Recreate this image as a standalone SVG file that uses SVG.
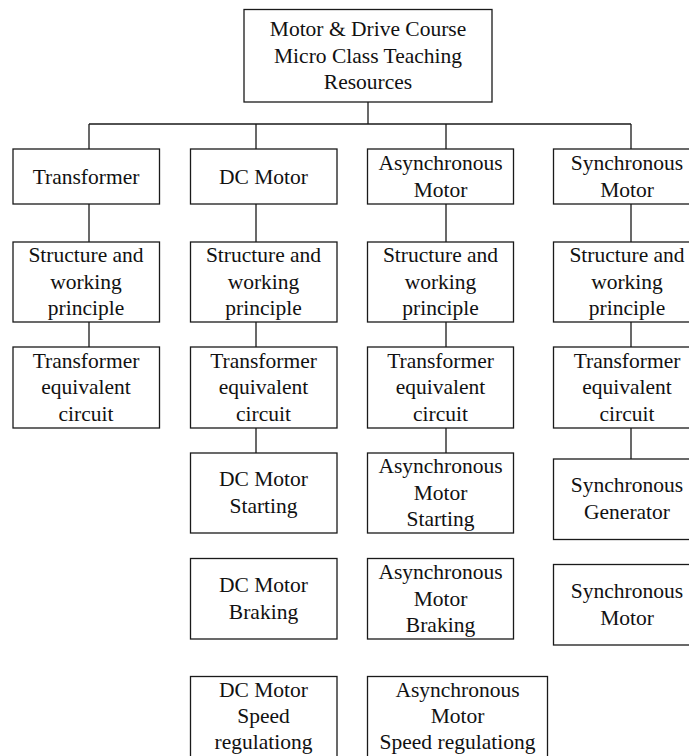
<svg xmlns="http://www.w3.org/2000/svg" width="689" height="756" viewBox="0 0 689 756">
<style>
rect.n{fill:#fff;stroke:#1a1a1a;stroke-width:1.3}
text{font-family:'Liberation Serif','Tinos','Times New Roman','DejaVu Serif',serif;font-size:21.5px;fill:#111;text-anchor:middle}
.c{fill:none;stroke:#1a1a1a;stroke-width:1.3}
</style>
<rect width="689" height="756" fill="#fff"/>
<g id="connectors" class="c">
<path d="M368,102 V124 M89,124 H631 M89,124 V149 M256,124 V149 M446,124 V149 M631,124 V149"/>
<path d="M89,204 V242 M89,322 V347"/>
<path d="M256,204 V242 M256,322 V347 M256,428 V453"/>
<path d="M446,204 V242 M446,322 V347 M446,428 V453"/>
<path d="M631,204 V242 M631,322 V347 M631,428 V459"/>
</g>
<g id="root"><rect class="n" x="244" y="9.5" width="248" height="92.5"/>
<text x="368" y="36">Motor &amp; Drive Course</text><text x="368" y="62.5">Micro Class Teaching</text><text x="368" y="89">Resources</text></g>

<g id="transformer"><rect class="n" x="13" y="149" width="146.5" height="55"/><text x="86" y="183.5">Transformer</text></g>
<g id="dc-motor"><rect class="n" x="190.5" y="149" width="146.5" height="55"/><text x="263.5" y="183.5">DC Motor</text></g>
<g id="async-motor"><rect class="n" x="367.5" y="149" width="146" height="55"/><text x="440.5" y="170">Asynchronous</text><text x="440.5" y="196.5">Motor</text></g>
<g id="sync-motor"><rect class="n" x="553.5" y="149" width="147" height="55"/><text x="627" y="170">Synchronous</text><text x="627" y="196.5">Motor</text></g>

<g id="t-structure"><rect class="n" x="13" y="242" width="146.5" height="80"/><text x="86" y="262">Structure and</text><text x="86" y="288.5">working</text><text x="86" y="315">principle</text></g>
<g id="dc-structure"><rect class="n" x="190.5" y="242" width="146.5" height="80"/><text x="263.5" y="262">Structure and</text><text x="263.5" y="288.5">working</text><text x="263.5" y="315">principle</text></g>
<g id="a-structure"><rect class="n" x="367.5" y="242" width="146" height="80"/><text x="440.5" y="262">Structure and</text><text x="440.5" y="288.5">working</text><text x="440.5" y="315">principle</text></g>
<g id="s-structure"><rect class="n" x="553.5" y="242" width="147" height="80"/><text x="627" y="262">Structure and</text><text x="627" y="288.5">working</text><text x="627" y="315">principle</text></g>

<g id="t-circuit"><rect class="n" x="13" y="347" width="146.5" height="81"/><text x="86" y="367.5">Transformer</text><text x="86" y="394">equivalent</text><text x="86" y="420.5">circuit</text></g>
<g id="dc-circuit"><rect class="n" x="190.5" y="347" width="146.5" height="81"/><text x="263.5" y="367.5">Transformer</text><text x="263.5" y="394">equivalent</text><text x="263.5" y="420.5">circuit</text></g>
<g id="a-circuit"><rect class="n" x="367.5" y="347" width="146" height="81"/><text x="440.5" y="367.5">Transformer</text><text x="440.5" y="394">equivalent</text><text x="440.5" y="420.5">circuit</text></g>
<g id="s-circuit"><rect class="n" x="553.5" y="347" width="147" height="81"/><text x="627" y="367.5">Transformer</text><text x="627" y="394">equivalent</text><text x="627" y="420.5">circuit</text></g>

<g id="dc-starting"><rect class="n" x="190.5" y="453" width="146.5" height="80"/><text x="263.5" y="486">DC Motor</text><text x="263.5" y="512.5">Starting</text></g>
<g id="a-starting"><rect class="n" x="367.5" y="453" width="146" height="80"/><text x="440.5" y="473">Asynchronous</text><text x="440.5" y="499.5">Motor</text><text x="440.5" y="526">Starting</text></g>
<g id="s-generator"><rect class="n" x="553.5" y="459" width="147" height="80.5"/><text x="627" y="492">Synchronous</text><text x="627" y="518.5">Generator</text></g>

<g id="dc-braking"><rect class="n" x="190.5" y="558.5" width="146.5" height="80.5"/><text x="263.5" y="592">DC Motor</text><text x="263.5" y="618.5">Braking</text></g>
<g id="a-braking"><rect class="n" x="367.5" y="558.5" width="146" height="80.5"/><text x="440.5" y="579">Asynchronous</text><text x="440.5" y="605.5">Motor</text><text x="440.5" y="632">Braking</text></g>
<g id="s-motor"><rect class="n" x="553.5" y="564.5" width="147" height="80.5"/><text x="627" y="598">Synchronous</text><text x="627" y="624.5">Motor</text></g>

<g id="dc-speed"><rect class="n" x="190.5" y="676.5" width="146.5" height="81"/><text x="263.5" y="697">DC Motor</text><text x="263.5" y="723">Speed</text><text x="263.5" y="749">regulationg</text></g>
<g id="a-speed"><rect class="n" x="367.5" y="676.5" width="180" height="81"/><text x="457.5" y="697">Asynchronous</text><text x="457.5" y="723">Motor</text><text x="457.5" y="749">Speed regulationg</text></g>
</svg>
